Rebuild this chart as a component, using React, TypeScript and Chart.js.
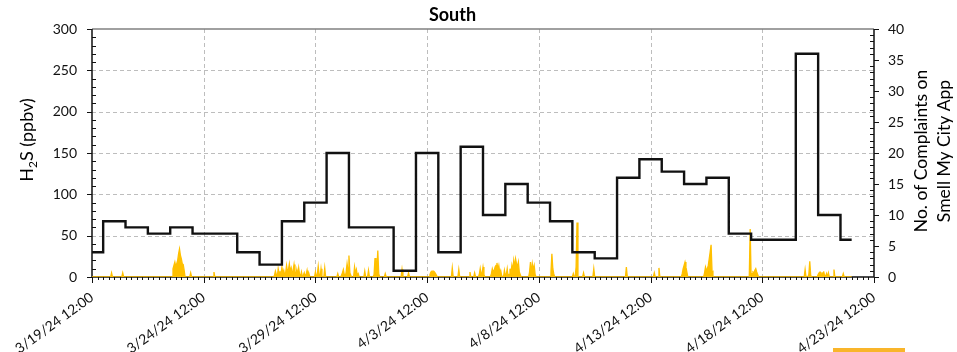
import React, { useEffect, useRef } from 'react';
import { Chart, registerables } from 'chart.js';

Chart.register(...registerables);

const FONT = 'Lato, "Open Sans", sans-serif';

const chartTitle = 'South';
const leftTitleParts = ['H', '2', 'S (ppbv)'];
const rightTitleLines = ['No. of Complaints on', 'Smell My City App'];

// x axis: days after 3/19/24 12:00
const xTickLabels = [
  '3/19/24 12:00', '3/24/24 12:00', '3/29/24 12:00', '4/3/24 12:00',
  '4/8/24 12:00', '4/13/24 12:00', '4/18/24 12:00', '4/23/24 12:00',
];
const xTickStepDays = 5;
const xMaxDays = 35;
const xMinorStepDays = 0.25;

const h2sMax = 300;
const h2sStep = 50;
const h2sMinorStep = 10;
const complaintsMax = 40;
const complaintsStep = 5;
const complaintsMinorStep = 1;

// daily complaint counts (first day starts at 3/19 12:00, last ends 4/22 12:00)
const complaintDates = [
  '3/19', '3/20', '3/21', '3/22', '3/23', '3/24', '3/25', '3/26', '3/27', '3/28',
  '3/29', '3/30', '3/31', '4/1', '4/2', '4/3', '4/4', '4/5', '4/6', '4/7',
  '4/8', '4/9', '4/10', '4/11', '4/12', '4/13', '4/14', '4/15', '4/16', '4/17',
  '4/18', '4/19', '4/20', '4/21', '4/22',
];
const complaintCounts = [
  4, 9, 8, 7, 8, 7, 7, 4, 2, 9,
  12, 20, 8, 8, 1, 20, 4, 21, 10, 15,
  12, 9, 4, 3, 16, 19, 17, 15, 16, 7,
  6, 6, 36, 10, 6,
];
const complaintEndDay = 34;

// hourly H2S (ppbv), hours after 3/19/24 12:00; zero outside the runs below
const h2sLastHour = 816;
const h2sRunStartHour = [
  21, 33, 87, 106, 131, 196, 240, 264, 282, 293,
  303, 315, 333, 340, 363, 387, 394, 406, 411, 416,
  429, 443, 448, 470, 493, 517, 528, 539, 574, 604,
  609, 634, 658, 707, 766, 780, 797, 807,
];
const h2sRunValues = [
  [5],
  [5],
  [10, 14, 18, 12, 16, 20, 28, 34, 26, 22, 16, 15, 8],
  [5],
  [6],
  [2, 7, 3, 0, 10, 4, 6, 3, 12, 4, 8, 2, 5, 14, 6, 9, 16, 7, 11, 4, 8, 15, 5, 3, 9, 2, 11, 3, 0, 6, 0, 2, 5, 0, 3, 8, 0, 4],
  [6, 0, 3, 13, 2, 0, 10, 0, 0, 0, 11],
  [4, 0, 0, 0, 2, 5, 9, 3, 0, 6, 16, 8, 26, 5, 2],
  [12, 4, 9, 2, 4],
  [7, 0, 0, 0, 8],
  [3, 23, 5, 10, 32, 4],
  [4],
  [9],
  [5],
  [3, 6, 7, 7, 7, 6, 4, 2],
  [11],
  [9],
  [6],
  [5],
  [3, 10, 2, 5, 12, 3],
  [4, 10, 6, 8, 12, 14, 17, 9, 14, 5, 8, 2],
  [8, 2, 3, 10],
  [3, 10, 4, 14, 8, 20, 12, 22, 16, 12, 18, 6, 3],
  [6, 18, 4, 16, 9, 14, 3],
  [6, 28, 10, 4],
  [4, 0, 0, 12, 66],
  [5],
  [10],
  [12],
  [5],
  [11],
  [4, 10, 14, 18, 12, 6],
  [5, 12, 8, 10, 14, 22, 30, 39, 8],
  [58, 0, 4, 6, 5, 8, 10, 6, 3],
  [9, 0, 0, 0, 3, 19, 2],
  [3, 5, 6, 4, 3, 5, 6, 2, 0, 4, 0, 5],
  [9],
  [4],
];

function buildComplaintPoints() {
  const pts = complaintCounts.map((c, i) => ({ x: i === 0 ? 0 : i - 0.5, y: c }));
  pts.push({ x: complaintEndDay, y: complaintCounts[complaintCounts.length - 1] });
  return pts;
}

function buildH2sPoints() {
  const vals: number[] = new Array(h2sLastHour + 1).fill(0);
  h2sRunStartHour.forEach((s, k) => {
    h2sRunValues[k].forEach((v, j) => {
      vals[s + j] = v;
    });
  });
  return vals.map((v, h) => ({ x: h / 24, y: v }));
}

const decorPlugin = {
  id: 'decor',
  beforeDatasetsDraw(chart: any) {
    const { ctx, chartArea: a, scales } = chart;
    const xs = scales.x;
    const ys = scales.y;
    ctx.save();
    // dashed grid
    ctx.strokeStyle = '#BDBDBD';
    ctx.lineWidth = 1;
    ctx.setLineDash([4, 3]);
    for (let v = h2sStep; v < h2sMax; v += h2sStep) {
      const py = Math.round(ys.getPixelForValue(v)) + 0.5;
      ctx.beginPath();
      ctx.moveTo(a.left, py);
      ctx.lineTo(a.right, py);
      ctx.stroke();
    }
    for (let d = xTickStepDays; d < xMaxDays; d += xTickStepDays) {
      const px = Math.round(xs.getPixelForValue(d)) + 0.5;
      ctx.beginPath();
      ctx.moveTo(px, a.top);
      ctx.lineTo(px, a.bottom);
      ctx.stroke();
    }
    ctx.setLineDash([]);
    // top border
    ctx.strokeStyle = '#808080';
    ctx.lineWidth = 1.5;
    ctx.beginPath();
    ctx.moveTo(a.left, a.top);
    ctx.lineTo(a.right, a.top);
    ctx.stroke();
    // axes
    ctx.strokeStyle = '#111';
    ctx.lineWidth = 1.5;
    ctx.beginPath();
    ctx.moveTo(a.left, a.top);
    ctx.lineTo(a.left, a.bottom);
    ctx.moveTo(a.right, a.top);
    ctx.lineTo(a.right, a.bottom);
    ctx.moveTo(a.left, a.bottom);
    ctx.lineTo(a.right, a.bottom);
    ctx.stroke();
    ctx.restore();
  },
  afterDraw(chart: any) {
    const { ctx, chartArea: a, scales } = chart;
    const xs = scales.x;
    const ys = scales.y;
    const y2 = scales.y2;
    ctx.save();
    ctx.strokeStyle = '#111';
    ctx.lineWidth = 1;
    // left ticks
    for (let v = 0; v <= h2sMax; v += h2sMinorStep) {
      const py = Math.round(ys.getPixelForValue(v)) + 0.5;
      ctx.beginPath();
      if (v % h2sStep === 0) {
        ctx.moveTo(a.left - 5, py);
        ctx.lineTo(a.left, py);
      } else {
        ctx.moveTo(a.left, py);
        ctx.lineTo(a.left + 4, py);
      }
      ctx.stroke();
    }
    // right ticks
    for (let v = 0; v <= complaintsMax; v += complaintsMinorStep) {
      const py = Math.round(y2.getPixelForValue(v)) + 0.5;
      ctx.beginPath();
      if (v % complaintsStep === 0) {
        ctx.moveTo(a.right, py);
        ctx.lineTo(a.right + 5, py);
      } else {
        ctx.moveTo(a.right - 4, py);
        ctx.lineTo(a.right, py);
      }
      ctx.stroke();
    }
    // bottom ticks
    const nMinor = Math.round(xMaxDays / xMinorStepDays);
    for (let i = 0; i <= nMinor; i++) {
      const d = i * xMinorStepDays;
      const px = Math.round(xs.getPixelForValue(d)) + 0.5;
      const major = Math.abs(d / xTickStepDays - Math.round(d / xTickStepDays)) < 1e-6;
      ctx.beginPath();
      ctx.moveTo(px, a.bottom);
      ctx.lineTo(px, a.bottom + (major ? 6 : 3));
      ctx.stroke();
    }

    ctx.fillStyle = '#000';
    // chart title
    ctx.font = `bold 18px ${FONT}`;
    ctx.textAlign = 'center';
    ctx.textBaseline = 'alphabetic';
    ctx.fillText(chartTitle, 452.5, 21);

    // left axis title with subscript
    const mainFont = `18px ${FONT}`;
    const subFont = `12px ${FONT}`;
    ctx.font = mainFont;
    const w0 = ctx.measureText(leftTitleParts[0]).width;
    const w2 = ctx.measureText(leftTitleParts[2]).width;
    ctx.font = subFont;
    const w1 = ctx.measureText(leftTitleParts[1]).width;
    const total = w0 + w1 + w2;
    ctx.save();
    ctx.translate(33, 140);
    ctx.rotate(-Math.PI / 2);
    ctx.textAlign = 'left';
    ctx.textBaseline = 'alphabetic';
    let cx = -total / 2;
    ctx.font = mainFont;
    ctx.fillText(leftTitleParts[0], cx, 0);
    cx += w0;
    ctx.font = subFont;
    ctx.fillText(leftTitleParts[1], cx, 4);
    cx += w1;
    ctx.font = mainFont;
    ctx.fillText(leftTitleParts[2], cx, 0);
    ctx.restore();

    // right axis title (reads bottom to top)
    ctx.save();
    ctx.font = `17.5px ${FONT}`;
    ctx.textAlign = 'center';
    ctx.textBaseline = 'middle';
    const lineX = [921, 944];
    rightTitleLines.forEach((t, i) => {
      ctx.save();
      ctx.translate(lineX[i], 151);
      ctx.rotate(-Math.PI / 2);
      ctx.fillText(t, 0, 0);
      ctx.restore();
    });
    ctx.restore();

    // cropped legend swatch at bottom edge
    ctx.fillStyle = '#F9B52A';
    ctx.fillRect(833, 348, 72, 4);
    ctx.restore();
  },
};

export default function App() {
  const ref = useRef<HTMLCanvasElement | null>(null);

  useEffect(() => {
    let chart: Chart | null = null;
    let cancelled = false;
    const make = () => {
      if (cancelled || !ref.current) return;
      const tickFont = { family: FONT, size: 14 };
      chart = new Chart(ref.current, {
        type: 'line',
        data: {
          datasets: [
            {
              label: 'Complaints',
              data: buildComplaintPoints(),
              yAxisID: 'y2',
              stepped: 'before',
              borderColor: '#111',
              borderWidth: 2.4,
              pointRadius: 0,
              fill: false,
              order: 0,
            },
            {
              label: 'H2S',
              data: buildH2sPoints(),
              yAxisID: 'y',
              borderColor: '#FFC000',
              backgroundColor: '#FFC000',
              borderWidth: 1.3,
              pointRadius: 0,
              tension: 0,
              fill: 'origin',
              order: 1,
            },
          ],
        },
        options: {
          animation: false,
          responsive: false,
          devicePixelRatio: 1,
          layout: { padding: { top: 29, left: 0, right: 0, bottom: 0 } },
          plugins: {
            legend: { display: false },
            title: { display: false },
            tooltip: { enabled: false },
          },
          scales: {
            x: {
              type: 'linear',
              min: 0,
              max: xMaxDays,
              grid: { display: false, drawTicks: false },
              border: { display: false },
              ticks: {
                stepSize: xTickStepDays,
                autoSkip: false,
                minRotation: 36,
                maxRotation: 36,
                padding: 12,
                color: '#111',
                font: tickFont,
                callback: (v: any) => xTickLabels[Math.round(Number(v) / xTickStepDays)] ?? '',
              },
              afterFit: (s: any) => {
                s.height = 75;
              },
            },
            y: {
              position: 'left',
              min: 0,
              max: h2sMax,
              grid: { display: false, drawTicks: false },
              border: { display: false },
              ticks: { stepSize: h2sStep, padding: 15, color: '#111', font: tickFont },
              afterFit: (s: any) => {
                s.width = 92;
              },
            },
            y2: {
              position: 'right',
              min: 0,
              max: complaintsMax,
              grid: { display: false, drawTicks: false },
              border: { display: false },
              ticks: { stepSize: complaintsStep, padding: 14, color: '#111', font: tickFont },
              afterFit: (s: any) => {
                s.width = 83;
              },
            },
          },
        },
        plugins: [decorPlugin],
      } as any);
    };
    const fontsReady = (document as any).fonts
      ? Promise.all([
          (document as any).fonts.load(`14px Lato`),
          (document as any).fonts.load(`bold 18px Lato`),
        ]).catch(() => null)
      : Promise.resolve(null);
    fontsReady.then(make);
    return () => {
      cancelled = true;
      if (chart) chart.destroy();
    };
  }, []);

  return (
    <div style={{ position: 'fixed', left: 0, top: 0, width: 957, height: 352, background: '#fff' }}>
      <canvas ref={ref} width={957} height={352} style={{ display: 'block', width: 957, height: 352 }} />
    </div>
  );
}
